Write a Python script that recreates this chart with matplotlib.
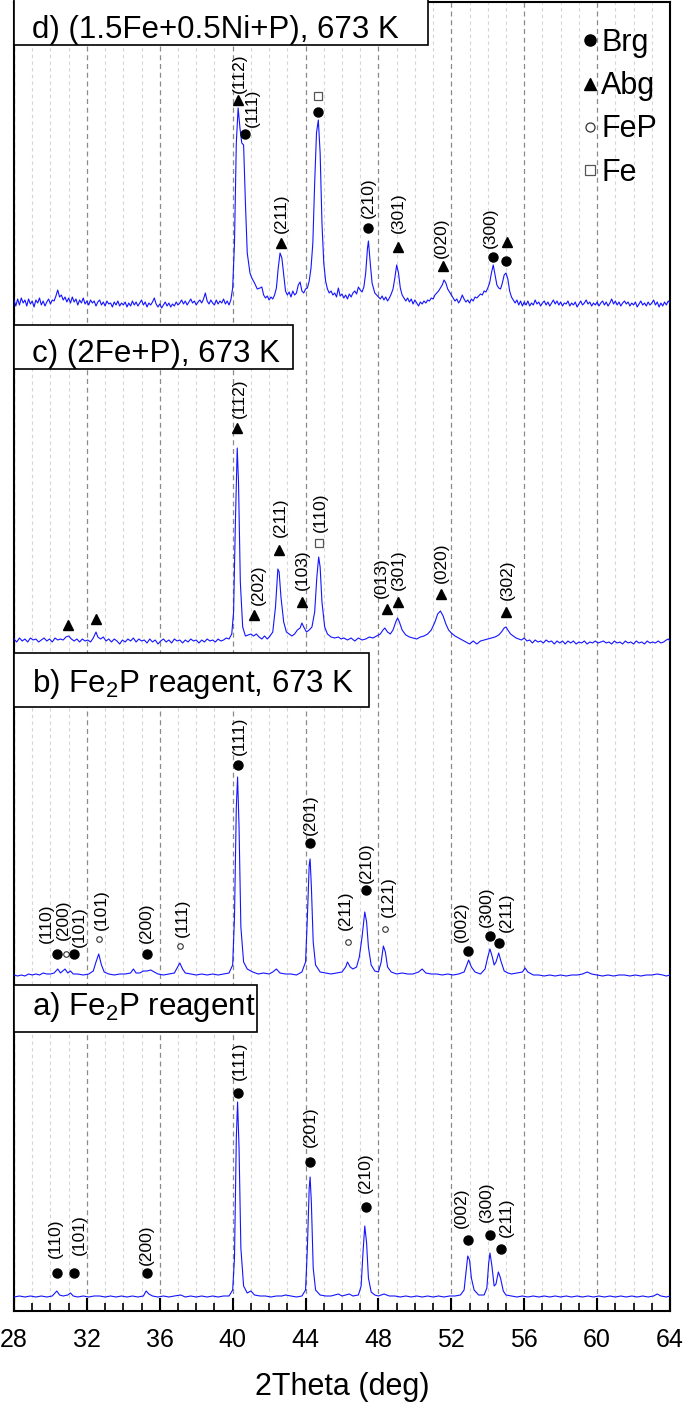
import numpy as np
import matplotlib.pyplot as plt
from matplotlib.lines import Line2D
from matplotlib.patches import Rectangle
from matplotlib.ticker import MultipleLocator

plt.rcParams['font.family'] = ['Liberation Sans', 'DejaVu Sans']
plt.rcParams['mathtext.fontset'] = 'custom'
plt.rcParams['mathtext.rm'] = 'Liberation Sans'

# vertical shift of each pattern, counted from the bottom of the frame
offsets = {'a': 13, 'b': 334, 'c': 669, 'd': 1008}
titles = {
    'a': r'a) Fe$_\mathregular{2}$P reagent',
    'b': r'b) Fe$_\mathregular{2}$P reagent, 673 K',
    'c': 'c) (2Fe+P), 673 K',
    'd': 'd) (1.5Fe+0.5Ni+P), 673 K',
}

# 2theta (deg), intensity (a.u.)
trace_a = [
    (28.0, 1), (28.3, 2), (28.6, 1), (28.9, 2), (29.2, 1), (29.5, 2), (29.8, 1), (30.1, 2),
    (30.25, 5), (30.35, 7), (30.5, 3), (30.7, 2), (30.95, 3), (31.1, 5), (31.25, 2), (31.5, 1),
    (31.8, 2), (32.1, 1), (32.4, 2), (32.7, 2), (33.0, 1), (33.3, 2), (33.6, 1), (33.9, 2),
    (34.2, 1), (34.5, 2), (34.8, 1), (35.1, 2), (35.25, 7), (35.4, 4), (35.6, 2), (35.9, 1),
    (36.2, 2), (36.5, 1), (36.8, 2), (37.15, 3), (37.4, 1), (37.7, 2), (38.0, 1), (38.3, 2),
    (38.6, 1), (38.9, 2), (39.2, 1), (39.5, 2), (39.8, 2), (40.0, 8), (40.1, 40), (40.2, 160),
    (40.27, 196), (40.35, 150), (40.45, 50), (40.6, 12), (40.8, 5), (41.0, 7), (41.2, 3),
    (41.5, 2), (41.8, 2), (42.1, 1), (42.4, 2), (42.7, 2), (42.9, 3), (43.2, 2), (43.5, 1),
    (43.8, 2), (44.0, 8), (44.1, 50), (44.2, 110), (44.25, 121), (44.32, 95), (44.42, 30),
    (44.55, 8), (44.8, 3), (45.1, 2), (45.4, 2), (45.8, 4), (46.0, 2), (46.4, 4), (46.6, 2),
    (46.9, 3), (47.05, 12), (47.15, 45), (47.25, 72), (47.35, 55), (47.45, 20), (47.6, 6),
    (47.8, 3), (48.0, 2), (48.3, 4), (48.6, 2), (48.9, 2), (49.2, 1), (49.5, 2), (49.8, 1),
    (50.1, 2), (50.4, 1), (50.7, 2), (51.0, 1), (51.3, 2), (51.6, 1), (51.9, 2), (52.2, 2),
    (52.5, 3), (52.7, 8), (52.8, 25), (52.9, 42), (53.0, 38), (53.1, 20), (53.25, 8), (53.5, 3),
    (53.8, 3), (53.95, 10), (54.05, 35), (54.12, 45), (54.22, 33), (54.35, 12), (54.45, 14),
    (54.58, 26), (54.7, 20), (54.85, 7), (55.0, 3), (55.3, 2), (55.6, 1), (55.9, 2), (56.2, 1),
    (56.5, 2), (56.8, 1), (57.1, 2), (57.4, 1), (57.7, 2), (58.0, 1), (58.3, 2), (58.6, 1),
    (58.9, 2), (59.2, 1), (59.5, 2), (59.8, 1), (60.1, 2), (60.4, 1), (60.7, 2), (61.0, 1),
    (61.3, 2), (61.6, 1), (61.9, 2), (62.2, 1), (62.5, 2), (62.8, 1), (63.1, 2), (63.3, 4),
    (63.5, 2), (63.8, 1), (64.0, 2),
]

trace_b = [
    (28.0, 2), (28.2, 1), (28.4, 2), (28.6, 1), (28.8, 3), (29.0, 2), (29.2, 3), (29.4, 2),
    (29.6, 4), (29.8, 3), (30.0, 3), (30.2, 4), (30.4, 8), (30.55, 4), (30.8, 8), (30.95, 4),
    (31.1, 6), (31.25, 3), (31.5, 3), (31.8, 2), (32.1, 3), (32.35, 6), (32.5, 15), (32.65, 23),
    (32.8, 12), (32.95, 5), (33.2, 3), (33.5, 2), (33.8, 3), (34.1, 3), (34.4, 4), (34.55, 8),
    (34.7, 4), (34.9, 4), (35.1, 6), (35.3, 6), (35.5, 7), (35.7, 5), (35.9, 3), (36.2, 2),
    (36.5, 3), (36.8, 4), (36.95, 9), (37.1, 14), (37.25, 8), (37.4, 4), (37.7, 3), (38.0, 2),
    (38.3, 3), (38.6, 2), (38.9, 3), (39.2, 2), (39.5, 3), (39.8, 4), (40.0, 12), (40.1, 60),
    (40.2, 170), (40.27, 200), (40.35, 150), (40.45, 50), (40.6, 15), (40.8, 8), (41.1, 5),
    (41.4, 3), (41.7, 4), (42.0, 3), (42.2, 5), (42.4, 8), (42.6, 4), (42.9, 3), (43.2, 3),
    (43.5, 2), (43.8, 5), (44.0, 15), (44.1, 60), (44.2, 112), (44.25, 118), (44.32, 90),
    (44.42, 35), (44.55, 12), (44.8, 5), (45.1, 4), (45.4, 3), (45.7, 4), (46.0, 5), (46.2, 10),
    (46.3, 15), (46.45, 10), (46.6, 8), (46.8, 10), (46.95, 20), (47.1, 40), (47.25, 65),
    (47.35, 55), (47.45, 30), (47.6, 12), (47.8, 6), (48.0, 5), (48.15, 15), (48.27, 31),
    (48.38, 25), (48.5, 10), (48.7, 5), (49.0, 3), (49.3, 4), (49.6, 3), (49.9, 3), (50.2, 5),
    (50.4, 8), (50.6, 4), (50.9, 3), (51.2, 3), (51.5, 2), (51.8, 3), (52.1, 2), (52.4, 3),
    (52.7, 5), (52.85, 12), (52.95, 17), (53.1, 10), (53.3, 5), (53.6, 3), (53.85, 8), (54.0, 20),
    (54.12, 28), (54.25, 20), (54.35, 12), (54.45, 15), (54.6, 24), (54.72, 16), (54.9, 6),
    (55.1, 4), (55.3, 3), (55.6, 4), (55.9, 5), (56.05, 9), (56.2, 5), (56.5, 2), (56.8, 2),
    (57.1, 1), (57.4, 2), (57.7, 1), (58.0, 2), (58.3, 1), (58.6, 2), (58.9, 2), (59.2, 3),
    (59.45, 5), (59.7, 3), (60.0, 2), (60.3, 1), (60.6, 2), (60.9, 1), (61.2, 2), (61.5, 2),
    (61.8, 1), (62.1, 2), (62.4, 1), (62.7, 2), (63.0, 2), (63.3, 3), (63.6, 2), (63.8, 1),
    (64.0, 2),
]

trace_c = [
    (28.0, 3), (28.15, 0), (28.3, 4), (28.45, 1), (28.6, 3), (28.75, 0), (28.9, 4), (29.05, 2),
    (29.2, 3), (29.35, 0), (29.5, 2), (29.65, 4), (29.8, 1), (29.95, 3), (30.1, 0), (30.25, 4),
    (30.4, 2), (30.55, 3), (30.7, 2), (30.85, 5), (31.0, 6), (31.15, 3), (31.3, 1), (31.45, 3),
    (31.6, 0), (31.75, 3), (31.9, 1), (32.05, 2), (32.2, 0), (32.35, 4), (32.5, 10), (32.6, 5),
    (32.75, 3), (32.9, 5), (33.05, 1), (33.2, 3), (33.35, 0), (33.5, 3), (33.65, 1), (33.8, -2),
    (33.95, 2), (34.1, 0), (34.25, 3), (34.4, 1), (34.55, 4), (34.7, 0), (34.85, 3), (35.0, 1),
    (35.15, 2), (35.3, -1), (35.45, 3), (35.6, 0), (35.75, 2), (35.9, -2), (36.05, 1), (36.2, 3),
    (36.35, 0), (36.5, 2), (36.65, -1), (36.8, 3), (36.95, 1), (37.1, 2), (37.25, -1), (37.4, 2),
    (37.55, 0), (37.7, 3), (37.85, 1), (38.0, 2), (38.15, -1), (38.3, 2), (38.45, 0), (38.6, 3),
    (38.75, 1), (38.9, 2), (39.05, 0), (39.2, 3), (39.35, 1), (39.5, 2), (39.65, 4), (39.8, 3),
    (39.95, 8), (40.05, 30), (40.15, 120), (40.25, 194), (40.32, 160), (40.42, 60), (40.55, 15),
    (40.7, 6), (40.85, 7), (41.0, 8), (41.15, 6), (41.3, 8), (41.45, 5), (41.6, 3), (41.75, 6),
    (41.9, 3), (42.05, 6), (42.2, 10), (42.35, 35), (42.48, 73), (42.55, 70), (42.65, 45),
    (42.8, 20), (42.95, 10), (43.1, 8), (43.25, 6), (43.4, 8), (43.55, 12), (43.7, 14),
    (43.8, 19), (43.9, 15), (44.05, 10), (44.2, 12), (44.35, 15), (44.5, 30), (44.62, 65),
    (44.72, 85), (44.8, 75), (44.9, 40), (45.05, 15), (45.2, 8), (45.4, 5), (45.6, 4), (45.8, 5),
    (45.95, 3), (46.1, 4), (46.3, 2), (46.5, 4), (46.7, 1), (46.9, 4), (47.1, 2), (47.3, 3),
    (47.5, 5), (47.7, 4), (47.9, 6), (48.1, 8), (48.25, 12), (48.35, 14), (48.5, 10), (48.65, 8),
    (48.8, 12), (48.95, 20), (49.05, 24), (49.15, 20), (49.3, 12), (49.5, 7), (49.7, 5),
    (49.9, 4), (50.1, 3), (50.3, 5), (50.5, 6), (50.7, 8), (50.9, 12), (51.1, 20), (51.25, 28),
    (51.4, 31), (51.55, 26), (51.7, 18), (51.85, 12), (52.0, 9), (52.2, 6), (52.4, 4), (52.6, 2),
    (52.8, 0), (53.0, -2), (53.2, 1), (53.4, -2), (53.6, 1), (53.8, 2), (54.0, 3), (54.2, 4),
    (54.4, 5), (54.6, 7), (54.75, 10), (54.9, 14), (55.0, 15), (55.1, 12), (55.25, 8), (55.4, 6),
    (55.55, 4), (55.7, 3), (55.85, 2), (56.0, 4), (56.15, 1), (56.3, 2), (56.45, -1), (56.6, 2),
    (56.75, 0), (56.9, 1), (57.05, -1), (57.2, 2), (57.35, 0), (57.5, 1), (57.65, -2), (57.8, 1),
    (57.95, -1), (58.1, 1), (58.25, -2), (58.4, 1), (58.55, -1), (58.7, 1), (58.85, -2), (59.0, 0),
    (59.15, -1), (59.3, 1), (59.45, -2), (59.6, 0), (59.75, -1), (59.9, 1), (60.05, -1), (60.2, 0),
    (60.35, 1), (60.5, -1), (60.65, 0), (60.8, -2), (60.95, 1), (61.1, -1), (61.25, 0), (61.4, -2),
    (61.55, 1), (61.7, -1), (61.85, 0), (62.0, -2), (62.15, 1), (62.3, -1), (62.45, 0), (62.6, -2),
    (62.75, 1), (62.9, -1), (63.05, 0), (63.2, -1), (63.35, 1), (63.5, -1), (63.65, 0), (63.8, 2),
    (63.9, 3), (64.0, 1),
]

trace_d = [
    (28.0, 3), (28.1, -3), (28.2, 4), (28.3, -2), (28.4, 5), (28.5, 0), (28.6, 3), (28.7, -3),
    (28.8, 4), (28.9, -1), (29.0, 2), (29.1, -4), (29.2, 3), (29.3, 0), (29.4, 5), (29.5, -2),
    (29.6, 2), (29.7, -3), (29.8, 1), (29.9, 4), (30.0, -1), (30.1, 3), (30.2, 2), (30.3, 7),
    (30.4, 13), (30.5, 6), (30.6, 8), (30.7, 3), (30.8, 6), (30.9, 1), (31.0, 5), (31.1, 0),
    (31.2, 6), (31.3, 1), (31.4, 4), (31.5, -2), (31.6, 3), (31.7, 0), (31.8, 5), (31.9, -1),
    (32.0, 2), (32.1, -2), (32.2, 3), (32.3, 0), (32.4, 2), (32.5, -3), (32.6, 1), (32.7, 3),
    (32.8, -2), (32.9, 1), (33.0, -3), (33.1, 2), (33.2, -1), (33.3, 0), (33.4, -4), (33.5, 1),
    (33.6, -2), (33.7, 2), (33.8, -3), (33.9, 0), (34.0, -2), (34.1, 1), (34.2, -4), (34.3, 0),
    (34.4, -3), (34.5, 2), (34.6, -2), (34.7, 1), (34.8, -3), (34.9, 0), (35.0, 3), (35.1, -2),
    (35.2, 1), (35.3, -4), (35.4, 0), (35.5, -2), (35.6, 1), (35.7, 5), (35.8, -1), (35.9, -4),
    (36.0, -1), (36.1, -5), (36.2, -2), (36.3, 1), (36.4, -3), (36.5, 0), (36.6, -4), (36.7, -1),
    (36.8, -3), (36.9, 1), (37.0, -2), (37.1, 0), (37.2, 3), (37.3, -1), (37.4, 2), (37.5, -2),
    (37.6, 1), (37.7, 4), (37.8, 0), (37.9, 2), (38.0, -2), (38.1, 1), (38.2, 3), (38.3, 0),
    (38.4, 4), (38.5, 10), (38.6, 2), (38.7, -1), (38.8, 3), (38.9, 0), (39.0, -2), (39.1, 3),
    (39.2, -1), (39.3, 2), (39.4, 0), (39.5, 4), (39.6, -1), (39.7, 2), (39.8, -2), (39.9, 3),
    (40.0, 15), (40.1, 60), (40.2, 160), (40.3, 195), (40.4, 175), (40.5, 160), (40.6, 158),
    (40.7, 100), (40.8, 50), (40.95, 30), (41.05, 25), (41.2, 20), (41.35, 14), (41.5, 15),
    (41.6, 16), (41.7, 8), (41.8, 5), (41.9, 7), (42.0, 3), (42.1, 6), (42.2, 4), (42.3, 8),
    (42.4, 15), (42.5, 35), (42.6, 50), (42.7, 45), (42.8, 28), (42.9, 12), (43.0, 8), (43.1, 11),
    (43.2, 6), (43.3, 12), (43.4, 8), (43.5, 10), (43.6, 18), (43.7, 21), (43.8, 12), (43.9, 10),
    (44.0, 14), (44.1, 15), (44.2, 22), (44.3, 35), (44.4, 60), (44.5, 120), (44.6, 170),
    (44.7, 183), (44.8, 150), (44.9, 80), (45.0, 40), (45.1, 22), (45.2, 14), (45.3, 10),
    (45.4, 12), (45.5, 8), (45.6, 10), (45.7, 6), (45.8, 15), (45.9, 7), (46.0, 9), (46.1, 5),
    (46.2, 8), (46.3, 4), (46.4, 9), (46.5, 6), (46.6, 10), (46.7, 12), (46.8, 9), (46.9, 16),
    (47.0, 13), (47.1, 11), (47.2, 16), (47.3, 30), (47.4, 55), (47.45, 62), (47.55, 40),
    (47.65, 20), (47.8, 10), (47.9, 8), (48.0, 6), (48.1, 4), (48.2, 7), (48.3, 3), (48.4, 6),
    (48.5, 2), (48.6, 5), (48.7, 9), (48.8, 14), (48.9, 25), (49.0, 38), (49.1, 30), (49.2, 15),
    (49.3, 8), (49.4, 5), (49.5, 2), (49.6, 5), (49.7, 1), (49.8, 4), (49.9, -1), (50.0, 3),
    (50.1, 0), (50.2, -3), (50.3, 1), (50.4, -1), (50.5, 2), (50.6, 0), (50.7, 3), (50.8, 2),
    (50.9, 5), (51.0, 4), (51.1, 8), (51.2, 10), (51.3, 12), (51.4, 15), (51.5, 18), (51.6, 23),
    (51.7, 20), (51.8, 14), (51.9, 11), (52.0, 8), (52.1, 5), (52.2, 2), (52.3, 4), (52.4, 0),
    (52.5, 3), (52.6, 8), (52.7, 4), (52.8, 1), (52.9, 3), (53.0, 0), (53.1, 4), (53.2, 2),
    (53.3, 6), (53.4, 5), (53.5, 7), (53.6, 9), (53.7, 8), (53.8, 12), (53.9, 11), (54.0, 15),
    (54.1, 20), (54.2, 30), (54.3, 38), (54.4, 28), (54.5, 18), (54.6, 15), (54.7, 14),
    (54.8, 20), (54.9, 28), (55.0, 30), (55.1, 24), (55.2, 12), (55.3, 6), (55.4, 3), (55.5, 0),
    (55.6, 3), (55.7, -2), (55.8, 2), (55.9, -3), (56.0, 1), (56.1, -2), (56.2, 2), (56.3, -3),
    (56.4, 0), (56.5, -2), (56.6, 3), (56.7, -1), (56.8, 1), (56.9, -3), (57.0, 0), (57.1, 2),
    (57.2, -2), (57.3, 1), (57.4, -3), (57.5, 0), (57.6, 3), (57.7, -1), (57.8, 2), (57.9, -2),
    (58.0, 1), (58.1, -3), (58.2, 0), (58.3, -1), (58.4, 2), (58.5, -3), (58.6, 0), (58.7, -2),
    (58.8, 1), (58.9, -4), (59.0, -1), (59.1, 2), (59.2, -2), (59.3, 0), (59.4, 3), (59.5, -1),
    (59.6, 1), (59.7, -3), (59.8, 0), (59.9, -2), (60.0, 1), (60.1, -3), (60.2, 0), (60.3, 2),
    (60.4, -2), (60.5, 1), (60.6, -3), (60.7, 0), (60.8, 4), (60.9, -1), (61.0, 2), (61.1, -2),
    (61.2, 1), (61.3, -3), (61.4, 0), (61.5, 2), (61.6, -1), (61.7, 1), (61.8, -3), (61.9, 0),
    (62.0, -2), (62.1, 1), (62.2, -4), (62.3, -1), (62.4, 2), (62.5, -2), (62.6, 0), (62.7, -3),
    (62.8, 1), (62.9, -2), (63.0, 0), (63.1, 3), (63.2, -2), (63.3, 1), (63.4, -4), (63.5, 0),
    (63.6, -3), (63.7, 1), (63.8, -2), (63.9, 2), (64.0, 0),
]

# phase marks: (phase, 2theta, height, hkl, label 2theta, label height)
marks_a = [
    ('Brg', 30.35, 25, '(110)', 30.25, 40),
    ('Brg', 31.3, 25, '(101)', 31.6, 43),
    ('Brg', 35.3, 25, '(200)', 35.28, 33),
    ('Brg', 40.3, 205, '(111)', 40.38, 218),
    ('Brg', 44.25, 136, '(201)', 44.25, 151),
    ('Brg', 47.3, 91, '(210)', 47.3, 105),
    ('Brg', 52.94, 58, '(002)', 52.53, 70),
    ('Brg', 54.14, 63, '(300)', 53.94, 76),
    ('Brg', 54.7, 49, '(211)', 55.04, 61),
]
marks_b = [
    ('Brg', 30.37, 23, '(110)', 29.8, 34),
    ('FeP', 30.85, 23, '(200)', 30.7, 37),
    ('Brg', 31.3, 23, '(101)', 31.6, 30),
    ('FeP', 32.65, 38, '(101)', 32.8, 47),
    ('Brg', 35.28, 23, '(200)', 35.28, 34),
    ('FeP', 37.13, 31, '(111)', 37.26, 40),
    ('Brg', 40.3, 212, '(111)', 40.38, 222),
    ('Brg', 44.25, 134, '(201)', 44.25, 142),
    ('FeP', 46.35, 35, '(211)', 46.2, 47),
    ('Brg', 47.32, 87, '(210)', 47.33, 94),
    ('FeP', 48.36, 48, '(121)', 48.55, 60),
    ('Brg', 52.94, 26, '(002)', 52.53, 35),
    ('Brg', 54.12, 41, '(300)', 53.94, 50),
    ('Brg', 54.64, 34, '(211)', 55.04, 45),
]
marks_c = [
    ('Abg', 30.95, 17, None, 0, 0),
    ('Abg', 32.5, 23, None, 0, 0),
    ('Abg', 40.26, 214, '(112)', 40.35, 224),
    ('Abg', 41.17, 27, '(202)', 41.4, 37),
    ('Abg', 42.55, 92, '(211)', 42.6, 105),
    ('Abg', 43.8, 40, '(103)', 43.85, 52),
    ('Fe', 44.76, 99, '(110)', 44.8, 110),
    ('Abg', 48.45, 33, '(013)', 48.15, 44),
    ('Abg', 49.05, 40, '(301)', 49.1, 52),
    ('Abg', 51.45, 48, '(020)', 51.45, 59),
    ('Abg', 55.0, 30, '(302)', 55.05, 42),
]
marks_d = [
    ('Abg', 40.3, 203, '(112)', 40.35, 210),
    ('Brg', 40.7, 169, '(111)', 41.1, 176),
    ('Abg', 42.65, 60, '(211)', 42.65, 70),
    ('Fe', 44.67, 207, None, 0, 0),
    ('Brg', 44.67, 191, None, 0, 0),
    ('Brg', 47.41, 75, '(210)', 47.45, 85),
    ('Abg', 49.05, 56, '(301)', 49.1, 70),
    ('Abg', 51.55, 37, '(020)', 51.45, 45),
    ('Brg', 54.28, 46, '(300)', 54.14, 55),
    ('Abg', 55.05, 61, None, 0, 0),
    ('Brg', 55.0, 42, None, 0, 0),
]

traces = {'a': trace_a, 'b': trace_b, 'c': trace_c, 'd': trace_d}
marks = {'a': marks_a, 'b': marks_b, 'c': marks_c, 'd': marks_d}

# title boxes: (width as axes fraction, bottom, top, text baseline) in intensity units
boxes = {
    'a': (0.370, 279, 326, 296),
    'b': (0.541, 604, 658, 619),
    'c': (0.425, 942, 986, 949),
    'd': (0.631, 1266, 1312, 1273),
}

phase_style = {
    'Brg': dict(marker='o', ms=6.5, mfc='black', mec='black'),
    'Abg': dict(marker='^', ms=6.5, mfc='black', mec='black'),
    'FeP': dict(marker='o', ms=4, mfc='white', mec='#333333', mew=0.8),
    'Fe': dict(marker='s', ms=5.5, mfc='white', mec='#555555', mew=0.9),
}
legend_style = {
    'Brg': dict(marker='o', ms=8, mfc='black', mec='black'),
    'Abg': dict(marker='^', ms=8, mfc='black', mec='black'),
    'FeP': dict(marker='o', ms=6.5, mfc='white', mec='#333333', mew=0.9),
    'Fe': dict(marker='s', ms=6.5, mfc='white', mec='#555555', mew=0.9),
}

fig = plt.figure(figsize=(6.85, 14.07), dpi=100)
ax = fig.add_axes([14 / 685, 1 - 1311 / 1407, 656 / 685, 1309 / 1407])
ymax = 1309

for key in ['a', 'b', 'c', 'd']:
    off = offsets[key]
    xy = np.array(traces[key], dtype=float)
    ax.plot(xy[:, 0], xy[:, 1] + off, color='#1414ff', lw=0.8, zorder=3)

    for phase, x, h, hkl, lx, lh in marks[key]:
        ax.plot([x], [h + off], ls='none', zorder=4, **phase_style[phase])
        if hkl:
            ax.text(lx, lh + off, hkl, rotation=90, ha='center', va='bottom',
                    fontsize=12.5, zorder=4)

    w, y0, y1, yb = boxes[key]
    ax.add_patch(Rectangle((0, y0 / ymax), w, (y1 - y0) / ymax, transform=ax.transAxes,
                           facecolor='white', edgecolor='black', lw=1.2, zorder=5,
                           clip_on=False))
    ax.text(0.027, yb / ymax, titles[key], transform=ax.transAxes, fontsize=22.5,
            ha='left', va='baseline', zorder=6)

handles = [Line2D([], [], ls='none', **legend_style[p]) for p in ['Brg', 'Abg', 'FeP', 'Fe']]
ax.legend(handles, ['Brg', 'Abg', 'FeP', 'Fe'], loc='upper right',
          bbox_to_anchor=(0.98, 0.980), frameon=False, fontsize=22,
          handlelength=0.4, handletextpad=0.15, labelspacing=0.43,
          borderpad=0, borderaxespad=0)

ax.set_xlim(28, 64)
ax.set_ylim(0, ymax)
ax.set_yticks([])
ax.set_xticks(np.arange(28, 65, 4))
ax.xaxis.set_minor_locator(MultipleLocator(1))
ax.grid(which='major', axis='x', ls=(0, (4, 3)), color='#8a8a8a', lw=0.9)
ax.grid(which='minor', axis='x', ls=(0, (3, 3)), color='#d4d4d4', lw=0.8)
ax.tick_params(axis='x', which='major', direction='in', length=9.5, width=1.5,
               labelsize=18, pad=12, top=False)
ax.tick_params(axis='x', which='minor', direction='in', length=5.5, width=1.2, top=False)
for sp in ax.spines.values():
    sp.set_linewidth(1.5)
ax.set_xlabel('2Theta (deg)', fontsize=22, labelpad=15)

fig.savefig('out.png', dpi=100)
